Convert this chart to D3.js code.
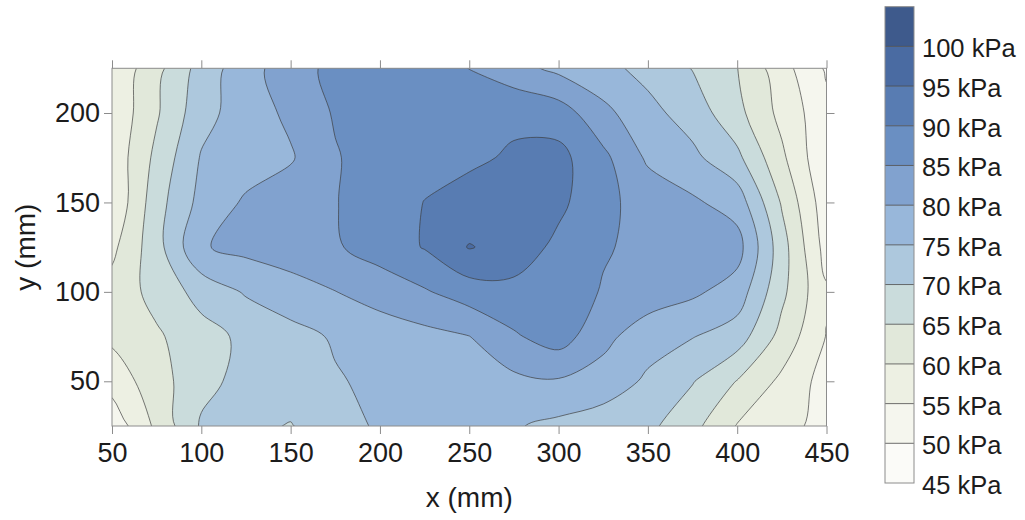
<!DOCTYPE html>
<html>
<head>
<meta charset="utf-8">
<script src="https://cdn.jsdelivr.net/npm/d3@7"></script>
<style>
    body {margin:0; background:#ffffff;}
    text {font-family:"Liberation Sans", Arial, sans-serif; fill:#1c1c1c;}
</style>
</head>
<body>
<svg></svg>
<script>
//grid positions the pressure was read at (mm)
var xValues = [50,75,100,125,150,175,200,225,250,275,300,325,350,375,400,425,450]
var yValues = [25,50,75,100,125,150,175,200,225]

//pressure rows in kPa, one list per y value (bottom row first)
var p25  = [51.5,61.1,70.6,71.3,69.7,73.5,75.5,76.5,76.5,75.4,73.8,72.3,71.2,66.5,59.7,56.0,54.0]
var p50  = [57.0,62.8,68.6,71.5,72.9,74.6,76.0,77.0,78.0,78.8,79.5,77.8,74.2,70.3,64.8,58.9,53.0]
var p75  = [61.0,64.3,68.1,71.1,73.4,75.5,77.0,78.5,79.9,84.4,87.3,81.5,77.0,75.2,72.5,63.3,54.8]
var p100 = [61.8,66.7,71.8,75.5,77.7,79.9,82.3,84.5,87.5,88.5,88.0,84.6,83.0,80.9,77.8,66.2,55.6]
var p125 = [58.8,68.1,79.6,81.4,82.9,84.5,87.1,90.3,95.3,93.0,88.7,85.5,83.6,82.0,82.0,67.1,53.0]
var p150 = [55.6,68.0,76.6,80.7,82.8,84.8,87.5,90.1,91.5,92.3,91.2,86.2,83.1,80.8,77.8,64.5,52.0]
var p175 = [56.5,66.3,75.4,77.6,79.5,84.6,87.5,88.5,89.3,90.5,91.5,86.2,79.2,76.2,71.2,61.0,50.6]
var p200 = [56.0,64.4,73.2,77.6,81.0,85.5,88.0,89.0,89.5,89.2,87.5,81.4,76.5,72.8,66.5,58.5,51.5]
var p225 = [55.8,63.5,72.0,78.1,82.6,86.5,88.5,88.5,84.9,81.7,78.8,76.4,73.5,69.8,65.1,57.0,49.3]

//contour levels and the colour of the band above each one
var levels = [45,50,55,60,65,70,75,80,85,90,95,100,105]
var bandColors = ["#fbfbf8","#f5f6ee","#edf0e3","#e1e8da","#cadcdc","#adc8dd",
                  "#98b7da","#81a2cf","#6a8fc2","#587cb2","#4a6ba2","#3e5a8c"]

var xTicks = [50,100,150,200,250,300,350,400,450]
var yTicks = [50,100,150,200]

var mainCode = function(){
    //fine tune these
        var screen = {width:1025, height:520}
        var plot = {left:112, right:826.5, top:68.3, bottom:426}
        var bar = {left:885, width:29, top:6.7, bottom:483}

        var svg = d3.select("svg")
            .attr("width", screen.width)
            .attr("height", screen.height)

        var xScale = d3.scaleLinear()
                        .domain(d3.extent(xValues))
                        .range([plot.left, plot.right])
        var yScale = d3.scaleLinear()
                        .domain(d3.extent(yValues))
                        .range([plot.bottom, plot.top])

        //d3.contours puts each value at the centre of a cell, map cell coords back to mm
        var gx = d3.scaleLinear()
                    .domain([0.5, xValues.length-0.5])
                    .range(d3.extent(xValues))
        var gy = d3.scaleLinear()
                    .domain([0.5, yValues.length-0.5])
                    .range(d3.extent(yValues))

        var cScale = d3.scaleLinear()
                        .domain(d3.extent(levels))
                        .range([bar.bottom, bar.top])

        drawContours(svg, xScale, yScale, gx, gy, plot)
        drawAxes(svg, xScale, yScale, plot)
        drawLegend(svg, cScale, bar)
}

var drawContours = function(svg, xScale, yScale, gx, gy, plot)
{
    var rows = [p25,p50,p75,p100,p125,p150,p175,p200,p225]
    var values = []
    rows.forEach(function(row){ row.forEach(function(v){ values.push(v) }) })

    var contours = d3.contours()
                    .size([xValues.length, yValues.length])
                    .thresholds(levels)(values)

    //smooth the marching squares rings a bit
    var ringLine = d3.line()
        .x(function(p){ return xScale(gx(p[0])) })
        .y(function(p){ return yScale(gy(p[1])) })
        .curve(d3.curveCatmullRomClosed.alpha(0.5))

    var pathOf = function(c){
        return c.coordinates.map(function(poly){
            return poly.map(function(ring){ return ringLine(ring.slice(0,-1)) }).join("")
        }).join("")
    }

    svg.append("clipPath")
        .attr("id", "plotClip")
        .append("rect")
        .attr("x", plot.left)
        .attr("y", plot.top)
        .attr("width", plot.right-plot.left)
        .attr("height", plot.bottom-plot.top)

    var shown = contours.filter(function(c){ return c.coordinates.length > 0 })

    svg.append("g")
        .attr("clip-path", "url(#plotClip)")
        .selectAll("path")
        .data(shown)
        .enter()
        .append("path")
        .attr("d", pathOf)
        .attr("fill-rule", "evenodd")
        .attr("fill", function(c){ return bandColors[levels.indexOf(c.value)] })

    //lines on top so fills don't cover half of them
    svg.append("g")
        .attr("clip-path", "url(#plotClip)")
        .selectAll("path")
        .data(shown)
        .enter()
        .append("path")
        .attr("d", pathOf)
        .attr("fill", "none")
        .attr("stroke", "#3c3c3c")
        .attr("stroke-opacity", 0.85)
        .attr("stroke-width", 0.8)
}

var drawAxes = function(svg, xScale, yScale, plot)
{
    var tick = 8
    var bottom = svg.append("g")
        .attr("transform", "translate(0,"+plot.bottom+")")
        .call(d3.axisBottom(xScale).tickValues(xTicks).tickSize(tick).tickPadding(9))
    var top = svg.append("g")
        .attr("transform", "translate(0,"+plot.top+")")
        .call(d3.axisTop(xScale).tickValues(xTicks).tickSize(tick).tickFormat(""))
    var left = svg.append("g")
        .attr("transform", "translate("+plot.left+",0)")
        .call(d3.axisLeft(yScale).tickValues(yTicks).tickSize(tick).tickPadding(4))
    var right = svg.append("g")
        .attr("transform", "translate("+plot.right+",0)")
        .call(d3.axisRight(yScale).tickValues(yTicks).tickSize(tick).tickFormat(""))

    ;[bottom, top, left, right].forEach(function(ax){
        ax.select(".domain").remove()
        ax.selectAll("line").attr("stroke", "#8c8c8c")
        ax.selectAll("text")
            .attr("font-size", 27)
            .attr("font-family", "Liberation Sans, Arial, sans-serif")
            .attr("fill", "#1c1c1c")
    })

    //frame
    svg.append("rect")
        .attr("x", plot.left)
        .attr("y", plot.top)
        .attr("width", plot.right-plot.left)
        .attr("height", plot.bottom-plot.top)
        .attr("fill", "none")
        .attr("stroke", "#8c8c8c")
        .attr("stroke-width", 1)

    svg.append("text")
        .text("x (mm)")
        .attr("x", (plot.left+plot.right)/2)
        .attr("y", 497)
        .attr("dy", "0.35em")
        .attr("text-anchor", "middle")
        .attr("font-size", 28)

    svg.append("text")
        .text("y (mm)")
        .attr("transform", "translate(25,"+((plot.top+plot.bottom)/2)+") rotate(-90)")
        .attr("dy", "0.35em")
        .attr("text-anchor", "middle")
        .attr("font-size", 28)
}

var drawLegend = function(svg, cScale, bar)
{
    var g = svg.append("g").attr("id", "legend")

    g.selectAll("rect.band")
        .data(bandColors)
        .enter()
        .append("rect")
        .attr("class", "band")
        .attr("x", bar.left)
        .attr("width", bar.width)
        .attr("y", function(c,i){ return cScale(levels[i+1]) })
        .attr("height", function(c,i){ return cScale(levels[i]) - cScale(levels[i+1]) })
        .attr("fill", function(c){ return c })

    g.selectAll("line.sep")
        .data(levels.slice(1,-1))
        .enter()
        .append("line")
        .attr("class", "sep")
        .attr("x1", bar.left)
        .attr("x2", bar.left+bar.width)
        .attr("y1", function(v){ return cScale(v) })
        .attr("y2", function(v){ return cScale(v) })
        .attr("stroke", "#4a4a4a")
        .attr("stroke-width", 0.8)

    g.append("rect")
        .attr("x", bar.left)
        .attr("y", bar.top)
        .attr("width", bar.width)
        .attr("height", bar.bottom-bar.top)
        .attr("fill", "none")
        .attr("stroke", "#8c8c8c")

    g.selectAll("text")
        .data(levels.slice(0,-1))
        .enter()
        .append("text")
        .text(function(v){ return v+" kPa" })
        .attr("x", bar.left+bar.width+8)
        .attr("y", function(v){ return cScale(v)+2 })
        .attr("dy", "0.35em")
        .attr("font-size", 25.5)
}

//Start
mainCode()
</script>
</body>
</html>
